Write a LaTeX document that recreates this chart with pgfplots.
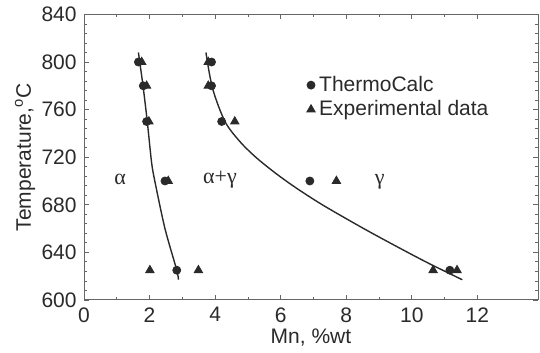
\documentclass[border=0pt]{standalone}
\usepackage{pgfplots}
\pgfplotsset{compat=1.18}
\usepackage{fontspec}
\setmainfont{Liberation Sans}
\newfontfamily\grk{Liberation Serif}
\definecolor{ink}{HTML}{2A2A2A}
\begin{document}
\fontsize{10.5}{12}\selectfont
\begin{tikzpicture}
\begin{axis}[
  scale only axis,
  width=227pt, height=142.75pt,
  xmin=0, xmax=13.85, ymin=600, ymax=840,
  xtick={0,2,...,12}, ytick={600,640,...,840},
  minor x tick num=1, minor y tick num=4,
  tick align=inside,
  major tick length=2.5pt, minor tick length=1.5pt,
  axis line style={gray!80!black, line width=0.5pt},
  tick style={gray!80!black, line width=0.4pt},
  ticklabel style={font=\fontsize{10.5}{12}\selectfont, text=ink},
  label style={font=\fontsize{10.5}{12}\selectfont, text=ink},
  /pgf/number format/assume math mode=true,
  xlabel={Mn, \%wt},
  ylabel={Temperature,\textsuperscript{o}C},
  xlabel style={yshift=4pt},
  ylabel style={yshift=-4pt},
  legend style={at={(rel axis cs:0.49,0.80)}, anchor=north west, draw=none, fill=none,
    font=\fontsize{10.5}{12}\selectfont, text=ink, row sep=-1pt,
    inner sep=0pt},
  legend cell align=left,
  clip=false,
]
\addplot[only marks, mark=*, mark size=2pt, ink] coordinates {
 (1.66,800) (1.81,780) (1.91,750) (2.47,700) (2.83,625)
 (3.89,800) (3.89,780) (4.2,750) (6.89,700) (11.16,625)
};
\addlegendentry{ThermoCalc}
\addplot[only marks, mark=triangle*, mark size=2.4pt, ink] coordinates {
 (1.76,800) (1.91,780) (1.98,750) (2.57,700) (2.01,625) (3.49,625)
 (3.79,800) (3.79,780) (4.6,750) (7.7,700) (10.65,625) (11.38,625)
};
\addlegendentry{Experimental data}
\addplot[smooth, ink, line width=0.7pt, forget plot] coordinates {
 (1.66,808) (1.8,780) (1.93,750) (2.06,716) (2.16,700) (2.47,660) (2.83,625) (2.88,617)
};
\addplot[smooth, ink, line width=0.7pt, forget plot] coordinates {
 (3.72,808) (3.92,778) (4.30,750) (4.76,733) (5.26,719.5) (5.87,706) (6.48,694) (7.3,679.5) (8.5,660.5) (9.5,645.5) (10.5,631) (11.54,617)
};
\node[text=ink, font=\grk\fontsize{11}{12}\selectfont] at (axis cs:1.1,701) {α};
\node[text=ink, font=\grk\fontsize{11}{12}\selectfont] at (axis cs:4.15,701) {α+γ};
\node[text=ink, font=\grk\fontsize{11}{12}\selectfont] at (axis cs:9.02,699) {γ};
\coordinate (sw) at (rel axis cs:0,0);
\coordinate (ne) at (rel axis cs:1,1);
\end{axis}
\useasboundingbox ([xshift=-42pt,yshift=-26.5pt]sw) rectangle ([xshift=1pt,yshift=6.25pt]ne);
\end{tikzpicture}
\end{document}
